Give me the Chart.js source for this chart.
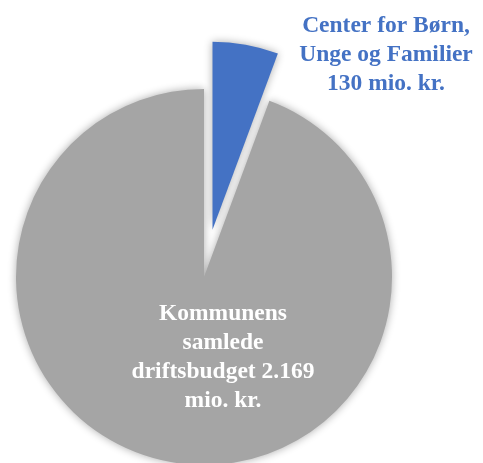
<!DOCTYPE html>
<html>
<head>
<meta charset="utf-8">
<script src="https://cdn.jsdelivr.net/npm/chart.js@4"></script>
<style>
  html, body { margin: 0; padding: 0; background: #fff; }
</style>
</head>
<body>
<canvas id="chart" width="483" height="463"></canvas>
<script>
// data (mio. kr.)
const categories = ['Center for Børn, Unge og Familier', 'Kommunens samlede driftsbudget'];
const values = [130, 2169];
const sliceColors = ['#4472C4', '#A5A5A5'];
const labelLines = [
  ['Center for Børn,', 'Unge og Familier', '130 mio. kr.'],
  ['Kommunens', 'samlede', 'driftsbudget 2.169', 'mio. kr.']
];

const EXPLODE = 48; // px the first slice is pulled out

// pull the small slice out along its mid angle
const explodePlugin = {
  id: 'explode',
  afterDatasetsUpdate(chart) {
    const arc = chart.getDatasetMeta(0).data[0];
    const mid = (arc.startAngle + arc.endAngle) / 2;
    arc.x += Math.cos(mid) * EXPLODE;
    arc.y += Math.sin(mid) * EXPLODE;
  }
};

// soft glow round the slices
const shadowPlugin = {
  id: 'shadow',
  beforeDatasetsDraw(chart) {
    const ctx = chart.ctx;
    ctx.save();
    ctx.shadowColor = 'rgba(0,0,0,0.33)';
    ctx.shadowBlur = 9;
  },
  afterDatasetsDraw(chart) {
    chart.ctx.restore();
  }
};

const labelPlugin = {
  id: 'sliceLabels',
  afterDraw(chart) {
    const ctx = chart.ctx;
    const arcs = chart.getDatasetMeta(0).data;
    const cx = arcs[1].x, cy = arcs[1].y;
    const spots = [
      { x: cx + 182, y: cy - 245, color: '#4472C4' },
      { x: cx + 19, y: cy + 43, color: '#ffffff' }
    ];
    ctx.save();
    ctx.font = 'bold 23.5px "Liberation Serif", serif';
    ctx.textAlign = 'center';
    ctx.textBaseline = 'alphabetic';
    labelLines.forEach((lines, i) => {
      ctx.fillStyle = spots[i].color;
      lines.forEach((t, j) => ctx.fillText(t, spots[i].x, spots[i].y + j * 29));
    });
    ctx.restore();
  }
};

new Chart(document.getElementById('chart'), {
  type: 'pie',
  data: {
    labels: categories,
    datasets: [{
      data: values,
      backgroundColor: sliceColors,
      borderWidth: 0,
      radius: 188,
      clip: false
    }]
  },
  options: {
    responsive: false,
    animation: false,
    devicePixelRatio: 1,
    layout: { padding: { left: 0, right: 75, top: 91, bottom: 0 } },
    plugins: {
      legend: { display: false },
      tooltip: { enabled: false }
    }
  },
  plugins: [explodePlugin, shadowPlugin, labelPlugin]
});
</script>
</body>
</html>
